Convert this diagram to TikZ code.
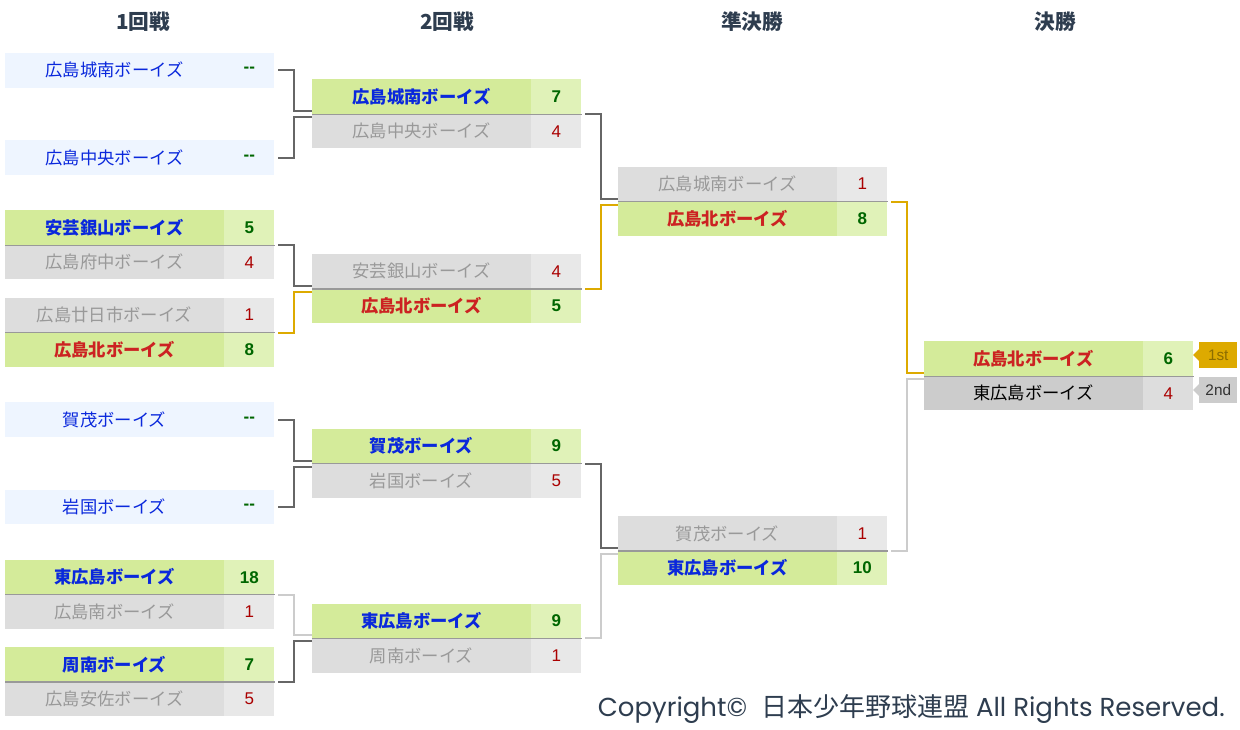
\documentclass[tikz,border=0pt]{standalone}
\usepackage{fontspec}
\setmainfont{Noto Sans CJK JP}
\newfontfamily\arfont{Liberation Sans}
\newfontfamily\popfont{Poppins}
\newfontfamily\jpfont{Noto Sans CJK JP}
\definecolor{wbg}{HTML}{D4EB9A}
\definecolor{wsc}{HTML}{E0F2B8}
\definecolor{lbg}{HTML}{DDDDDD}
\definecolor{lsc}{HTML}{E8E8E8}
\definecolor{byebg}{HTML}{EEF5FF}
\definecolor{fbg}{HTML}{CCCCCC}
\definecolor{fsc}{HTML}{DDDDDD}
\definecolor{gold}{HTML}{DDAA00}
\definecolor{dkline}{HTML}{666666}
\definecolor{ltline}{HTML}{CCCCCC}
\definecolor{blu}{HTML}{0A28DC}
\definecolor{rd}{HTML}{CC2222}
\definecolor{gtx}{HTML}{999999}
\definecolor{grn}{HTML}{006600}
\definecolor{drd}{HTML}{AA0000}
\definecolor{hdr}{HTML}{2E3D4F}
\definecolor{divc}{HTML}{999999}
\definecolor{tagtx}{HTML}{8C6D00}
\tikzset{
  cell/.style={rectangle, inner sep=0pt, anchor=north west, minimum height=25.875pt},
  namecell/.style={cell, minimum width=163.875pt, font=\fontsize{13}{15}\selectfont},
  scorecell/.style={cell, minimum width=37.5pt, font=\arfont\fontsize{12.75}{14}\selectfont},
  wb/.style={text=blu, font=\fontsize{13}{15}\selectfont\bfseries},
  wr/.style={text=rd, font=\fontsize{13}{15}\selectfont\bfseries},
  lg/.style={text=gtx},
  by/.style={text=blu},
  fk/.style={text=black},
  sw/.style={text=grn, font=\arfont\fontsize{12.75}{14}\selectfont\bfseries},
  sl/.style={text=drd},
  divline/.style={draw=divc, line width=0.9pt},
  conn/.style={line width=1.5pt},
  dk/.style={conn, draw=dkline},
  gd/.style={conn, draw=gold},
  lt/.style={conn, draw=ltline},
  hd/.style={text=hdr, font=\fontsize{15.5}{18}\selectfont\bfseries},
  tagbox/.style={rectangle, inner sep=0pt, minimum width=28.5pt, minimum height=19.5pt, anchor=west, font=\arfont\fontsize{11.5}{13}\selectfont},
}
% #1 id, #2 x, #3 ytop, #4 name bg, #5 name style, #6 name, #7 score bg, #8 score style, #9 score
\newcommand\tm[9]{%
  \node[namecell, fill=#4, #5] (#1) at (#2,#3) {#6};
  \node[scorecell, fill=#7, #8] (#1s) at (#1.north east) {#9};
}
\newcommand\dv[2]{\draw[divline] (#1.south west) -- (#2.south east);}
\begin{document}
\begin{tikzpicture}[x=0.75pt, y=-0.75pt]
\useasboundingbox (0,0) rectangle (1240,730);
\fill[white] (0,0) rectangle (1240,730);

% headers
\node[hd] (h1) at (143,22) {1回戦};
\node[hd] (h2) at (447,22) {2回戦};
\node[hd] (h3) at (752,22) {準決勝};
\node[hd] (h4) at (1055,22) {決勝};

% Round 1
\tm{a1}{5}{52.75}{byebg}{by}{広島城南ボーイズ}{byebg}{sw}{-{}-}
\tm{a2}{5}{140.15}{byebg}{by}{広島中央ボーイズ}{byebg}{sw}{-{}-}
\tm{a3}{5}{210.2}{wbg}{wb}{安芸銀山ボーイズ}{wsc}{sw}{5}
\tm{a4}{5}{244.7}{lbg}{lg}{広島府中ボーイズ}{lsc}{sl}{4}
\dv{a3}{a3s}
\tm{a5}{5}{297.6}{lbg}{lg}{広島廿日市ボーイズ}{lsc}{sl}{1}
\tm{a6}{5}{332.1}{wbg}{wr}{広島北ボーイズ}{wsc}{sw}{8}
\dv{a5}{a5s}
\tm{a7}{5}{402.15}{byebg}{by}{賀茂ボーイズ}{byebg}{sw}{-{}-}
\tm{a8}{5}{489.55}{byebg}{by}{岩国ボーイズ}{byebg}{sw}{-{}-}
\tm{a9}{5}{559.7}{wbg}{wb}{東広島ボーイズ}{wsc}{sw}{18}
\tm{a10}{5}{594.2}{lbg}{lg}{広島南ボーイズ}{lsc}{sl}{1}
\dv{a9}{a9s}
\tm{a11}{5}{647}{wbg}{wb}{周南ボーイズ}{wsc}{sw}{7}
\tm{a12}{5}{681.5}{lbg}{lg}{広島安佐ボーイズ}{lsc}{sl}{5}
\dv{a11}{a11s}

% Round 2
\tm{b1}{312}{79.2}{wbg}{wb}{広島城南ボーイズ}{wsc}{sw}{7}
\tm{b2}{312}{113.7}{lbg}{lg}{広島中央ボーイズ}{lsc}{sl}{4}
\dv{b1}{b1s}
\tm{b3}{312}{253.9}{lbg}{lg}{安芸銀山ボーイズ}{lsc}{sl}{4}
\tm{b4}{312}{288.4}{wbg}{wr}{広島北ボーイズ}{wsc}{sw}{5}
\dv{b3}{b3s}
\tm{b5}{312}{428.6}{wbg}{wb}{賀茂ボーイズ}{wsc}{sw}{9}
\tm{b6}{312}{463.1}{lbg}{lg}{岩国ボーイズ}{lsc}{sl}{5}
\dv{b5}{b5s}
\tm{b7}{312}{603.4}{wbg}{wb}{東広島ボーイズ}{wsc}{sw}{9}
\tm{b8}{312}{637.9}{lbg}{lg}{周南ボーイズ}{lsc}{sl}{1}
\dv{b7}{b7s}

% Semifinals
\tm{c1}{618}{166.5}{lbg}{lg}{広島城南ボーイズ}{lsc}{sl}{1}
\tm{c2}{618}{201}{wbg}{wr}{広島北ボーイズ}{wsc}{sw}{8}
\dv{c1}{c1s}
\tm{c3}{618}{516}{lbg}{lg}{賀茂ボーイズ}{lsc}{sl}{1}
\tm{c4}{618}{550.5}{wbg}{wb}{東広島ボーイズ}{wsc}{sw}{10}
\dv{c3}{c3s}

% Final
\tm{d1}{924}{341.2}{wbg}{wr}{広島北ボーイズ}{wsc}{sw}{6}
\tm{d2}{924}{375.7}{fbg}{fk}{東広島ボーイズ}{fsc}{sl}{4}
\dv{d1}{d1s}

% tags
\node[tagbox, fill=gold, text=tagtx] (t1) at (1199,355) {1st};
\fill[gold] (t1.west) ++(0,-6) -- ++(-6,6) -- ++(6,6) -- cycle;
\node[tagbox, fill=fbg, text=black!80] (t2) at (1199,390) {2nd};
\fill[fbg] (t2.west) ++(0,-6) -- ++(-6,6) -- ++(6,6) -- cycle;

% connectors R1 -> R2
\draw[dk] ([xshift=2.6pt]a1s.east) -- ++(16,0) |- ([yshift=2.25pt]b1.south west);
\draw[dk] ([xshift=2.6pt]a2s.east) -- ++(16,0) |- ([yshift=-2.25pt]b1.south west);
\draw[dk] ([xshift=2.6pt]a3s.south east) -- ++(16,0) |- ([yshift=2.25pt]b3.south west);
\draw[gd] ([xshift=2.6pt]a5s.south east) -- ++(16,0) |- ([yshift=-2.25pt]b3.south west);
\draw[dk] ([xshift=2.6pt]a7s.east) -- ++(16,0) |- ([yshift=2.25pt]b5.south west);
\draw[dk] ([xshift=2.6pt]a8s.east) -- ++(16,0) |- ([yshift=-2.25pt]b5.south west);
\draw[lt] ([xshift=2.6pt]a9s.south east) -- ++(16,0) |- ([yshift=2.25pt]b7.south west);
\draw[dk] ([xshift=2.6pt]a11s.south east) -- ++(16,0) |- ([yshift=-2.25pt]b7.south west);
% R2 -> SF
\draw[dk] ([xshift=2.6pt]b1s.south east) -- ++(16,0) |- ([yshift=2.25pt]c1.south west);
\draw[gd] ([xshift=2.6pt]b3s.south east) -- ++(16,0) |- ([yshift=-2.25pt]c1.south west);
\draw[dk] ([xshift=2.6pt]b5s.south east) -- ++(16,0) |- ([yshift=2.25pt]c3.south west);
\draw[lt] ([xshift=2.6pt]b7s.south east) -- ++(16,0) |- ([yshift=-2.25pt]c3.south west);
% SF -> F
\draw[gd] ([xshift=2.6pt]c1s.south east) -- ++(16,0) |- ([yshift=2.25pt]d1.south west);
\draw[lt] ([xshift=2.6pt]c3s.south east) -- ++(16,0) |- ([yshift=-2.25pt]d1.south west);

% copyright
\node[anchor=base east, inner sep=0pt, text=hdr, font=\popfont\fontsize{19.5}{22}\selectfont] (cp) at (1225,717) {Copyright©\ \ {\jpfont 日本少年野球連盟} All Rights Reserved.};
\end{tikzpicture}
\end{document}
